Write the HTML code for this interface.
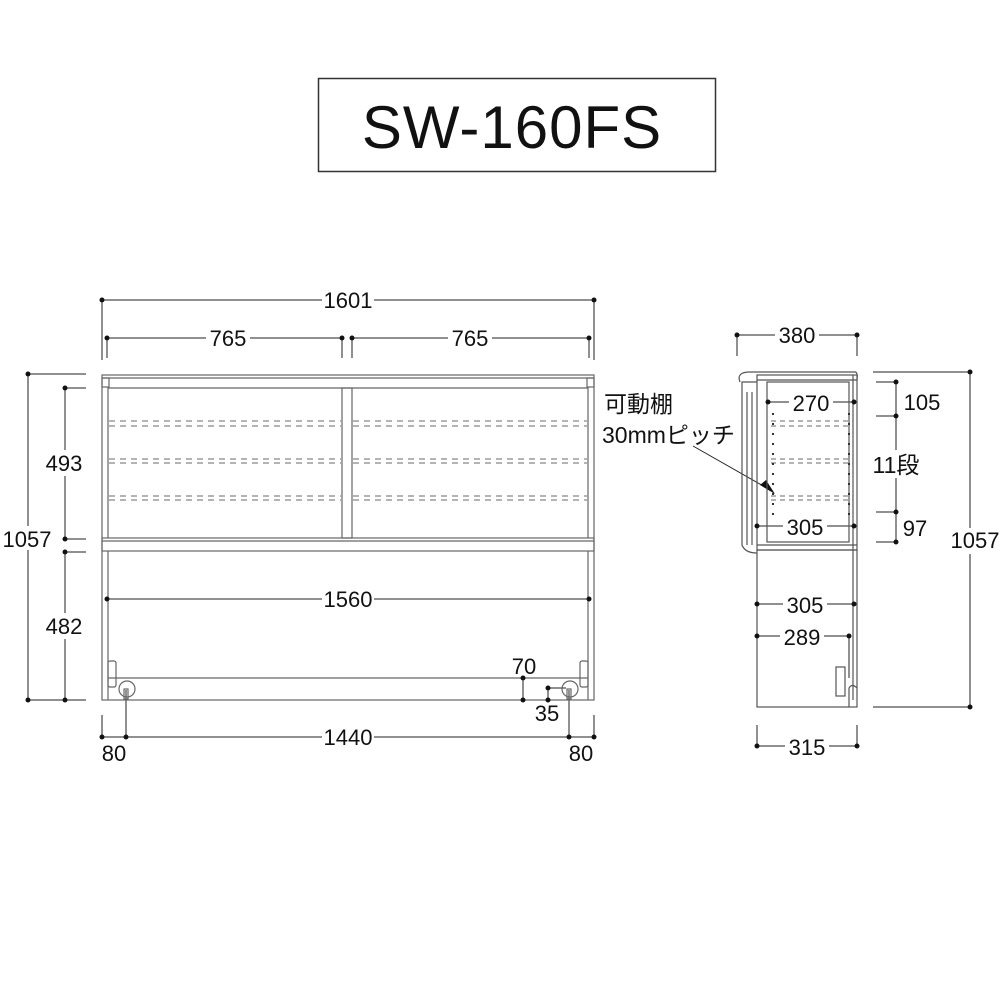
<!DOCTYPE html><html><head><meta charset="utf-8"><style>body{margin:0;background:#fff}svg{display:block}text{font-family:"Liberation Sans","Noto Sans CJK JP",sans-serif;fill:#111}</style></head><body>
<svg width="1000" height="1000" viewBox="0 0 1000 1000" xmlns="http://www.w3.org/2000/svg">
<rect x="318.5" y="78.5" width="397" height="93" fill="none" stroke="#333" stroke-width="1.5"/>
<text x="512" y="148" font-size="60" text-anchor="middle" fill="#333" font-family="DejaVu Sans, sans-serif" letter-spacing="1">SW-160FS</text>
<g stroke="#222" stroke-width="1" fill="none">
<line x1="102" y1="300" x2="594" y2="300"/><line x1="102" y1="300" x2="102" y2="360"/><line x1="594" y1="300" x2="594" y2="360"/>
<line x1="107" y1="338" x2="342" y2="338"/><line x1="352" y1="338" x2="589" y2="338"/>
<line x1="107" y1="338" x2="107" y2="358"/><line x1="342" y1="338" x2="342" y2="358"/><line x1="352" y1="338" x2="352" y2="358"/><line x1="589" y1="338" x2="589" y2="358"/>
<line x1="28" y1="374" x2="86" y2="374"/><line x1="28" y1="374" x2="28" y2="700"/><line x1="28" y1="700" x2="86" y2="700"/>
<line x1="65" y1="388" x2="86" y2="388"/><line x1="65" y1="388" x2="65" y2="539"/><line x1="65" y1="539" x2="86" y2="539"/>
<line x1="65" y1="552" x2="86" y2="552"/><line x1="65" y1="552" x2="65" y2="700"/>
<line x1="107" y1="599" x2="589" y2="599"/>
<line x1="102" y1="715" x2="102" y2="737"/><line x1="594" y1="715" x2="594" y2="737"/>
<line x1="102" y1="737" x2="594" y2="737"/>
<line x1="126" y1="690" x2="126" y2="737"/><line x1="569" y1="690" x2="569" y2="737"/>
<line x1="523" y1="678" x2="523" y2="700"/>
<line x1="548" y1="688" x2="566" y2="688"/><line x1="548" y1="688" x2="548" y2="700"/>
</g>
<g stroke="#666" stroke-width="1.2" fill="none">
<rect x="102" y="375" width="492" height="325"/>
<line x1="102" y1="378" x2="594" y2="378"/>
<rect x="102" y="378" width="7" height="9"/><rect x="587" y="378" width="7" height="9"/>
<line x1="108" y1="388" x2="588" y2="388"/>
<line x1="108" y1="387" x2="108" y2="538"/><line x1="588" y1="387" x2="588" y2="538"/>
<rect x="342" y="388" width="10" height="150"/>
<rect x="102" y="538" width="492" height="13"/>
<line x1="102" y1="541" x2="594" y2="541"/>
<line x1="108" y1="551" x2="108" y2="700"/><line x1="588" y1="551" x2="588" y2="700"/>
<line x1="108" y1="678" x2="588" y2="678"/>
<circle cx="127" cy="689" r="8"/><circle cx="570" cy="689" r="8"/>
<rect x="124" y="689" width="4" height="10"/><rect x="567" y="689" width="4" height="10"/>
<rect x="108" y="661" width="8" height="26" rx="2"/><rect x="580" y="661" width="8" height="26" rx="2"/>
</g>
<g stroke="#888" stroke-width="1.2" stroke-dasharray="6,5">
<line x1="109" y1="421" x2="341" y2="421"/><line x1="109" y1="426" x2="341" y2="426"/>
<line x1="353" y1="421" x2="587" y2="421"/><line x1="353" y1="426" x2="587" y2="426"/>
<line x1="109" y1="459" x2="341" y2="459"/><line x1="109" y1="463" x2="341" y2="463"/>
<line x1="353" y1="459" x2="587" y2="459"/><line x1="353" y1="463" x2="587" y2="463"/>
<line x1="109" y1="496" x2="341" y2="496"/><line x1="109" y1="500" x2="341" y2="500"/>
<line x1="353" y1="496" x2="587" y2="496"/><line x1="353" y1="500" x2="587" y2="500"/>
</g>
<g fill="#111">
<circle cx="102" cy="300" r="2.5"/><circle cx="594" cy="300" r="2.5"/>
<circle cx="107" cy="338" r="2.5"/><circle cx="342" cy="338" r="2.5"/><circle cx="352" cy="338" r="2.5"/><circle cx="589" cy="338" r="2.5"/>
<circle cx="28" cy="374" r="2.5"/><circle cx="28" cy="700" r="2.5"/>
<circle cx="65" cy="388" r="2.5"/><circle cx="65" cy="539" r="2.5"/><circle cx="65" cy="552" r="2.5"/><circle cx="65" cy="700" r="2.5"/>
<circle cx="107" cy="599" r="2.5"/><circle cx="589" cy="599" r="2.5"/>
<circle cx="102" cy="737" r="2.5"/><circle cx="126" cy="737" r="2.5"/><circle cx="569" cy="737" r="2.5"/><circle cx="594" cy="737" r="2.5"/>
<circle cx="523" cy="678" r="2.5"/><circle cx="523" cy="700" r="2.5"/><circle cx="548" cy="688" r="2.5"/><circle cx="548" cy="700" r="2.5"/>
</g>
<g font-size="22" text-anchor="middle">
<rect x="322" y="288" width="52" height="24" fill="#fff"/><text x="348" y="308">1601</text>
<rect x="206" y="326" width="44" height="24" fill="#fff"/><text x="228" y="346">765</text>
<rect x="448" y="326" width="44" height="24" fill="#fff"/><text x="470" y="346">765</text>
<rect x="0" y="526" width="56" height="24" fill="#fff"/><text x="27" y="547">1057</text>
<rect x="44" y="450" width="42" height="26" fill="#fff"/><text x="64" y="471">493</text>
<rect x="44" y="613" width="42" height="26" fill="#fff"/><text x="64" y="634">482</text>
<rect x="322" y="587" width="52" height="24" fill="#fff"/><text x="348" y="607">1560</text>
<rect x="322" y="725" width="52" height="24" fill="#fff"/><text x="348" y="745">1440</text>
<text x="114" y="761">80</text><text x="581" y="761">80</text>
<text x="524" y="674">70</text><text x="547" y="721">35</text>
</g>
<g stroke="#222" stroke-width="1" fill="none">
<line x1="737" y1="335" x2="857" y2="335"/><line x1="737" y1="335" x2="737" y2="356"/><line x1="857" y1="335" x2="857" y2="356"/>
<line x1="873" y1="372" x2="970" y2="372"/><line x1="970" y1="372" x2="970" y2="707"/><line x1="873" y1="707" x2="970" y2="707"/>
<line x1="876" y1="382" x2="896" y2="382"/><line x1="896" y1="382" x2="896" y2="542"/><line x1="876" y1="416" x2="896" y2="416"/>
<line x1="876" y1="512" x2="896" y2="512"/><line x1="876" y1="542" x2="896" y2="542"/>
<line x1="768" y1="402" x2="854" y2="402"/><line x1="757" y1="526" x2="854" y2="526"/>
<line x1="757" y1="604" x2="854" y2="604"/><line x1="757" y1="636" x2="849" y2="636"/><line x1="849" y1="636" x2="849" y2="678"/>
<line x1="757" y1="725" x2="757" y2="746"/><line x1="857" y1="725" x2="857" y2="746"/><line x1="757" y1="746" x2="857" y2="746"/>
<line x1="693" y1="446" x2="765" y2="487"/>
</g>
<path d="M775 494 L760 485 L766 480 Z" fill="#111"/>
<g stroke="#555" stroke-width="1.2" fill="none">
<path d="M740 382 Q736 372 750 372 L855 372 Q858 372 857 380 L757 380"/>
<rect x="757" y="375" width="100" height="175"/>
<rect x="767" y="382" width="82" height="160"/>
<line x1="853" y1="375" x2="853" y2="550"/>
<path d="M757 382 L742 382 L742 545 Q745 553 757 553"/>
<line x1="747" y1="392" x2="747" y2="545"/><line x1="752" y1="392" x2="752" y2="545"/>
<line x1="757" y1="545" x2="857" y2="545"/>
<rect x="757" y="550" width="100" height="157"/>
<line x1="853" y1="550" x2="853" y2="700"/>
<rect x="836" y="667" width="9" height="29"/>
<path d="M849 707 L849 688 Q852 683 857 688"/>
</g>
<g stroke="#888" stroke-width="1.2" stroke-dasharray="5,4">
<line x1="771" y1="421" x2="853" y2="421"/><line x1="771" y1="426" x2="853" y2="426"/>
<line x1="771" y1="459" x2="853" y2="459"/><line x1="771" y1="463" x2="853" y2="463"/>
<line x1="771" y1="496" x2="853" y2="496"/><line x1="771" y1="500" x2="853" y2="500"/>
</g>
<g stroke="#333" stroke-width="2" stroke-dasharray="2,8">
<line x1="773" y1="413" x2="773" y2="515"/><line x1="849" y1="413" x2="849" y2="515"/>
</g>
<g fill="#111">
<circle cx="737" cy="335" r="2.5"/><circle cx="857" cy="335" r="2.5"/><circle cx="970" cy="372" r="2.5"/><circle cx="970" cy="707" r="2.5"/>
<circle cx="896" cy="382" r="2.5"/><circle cx="896" cy="416" r="2.5"/><circle cx="896" cy="512" r="2.5"/><circle cx="896" cy="542" r="2.5"/>
<circle cx="768" cy="402" r="2.5"/><circle cx="854" cy="402" r="2.5"/><circle cx="757" cy="526" r="2.5"/><circle cx="854" cy="526" r="2.5"/>
<circle cx="757" cy="604" r="2.5"/><circle cx="854" cy="604" r="2.5"/><circle cx="757" cy="636" r="2.5"/><circle cx="849" cy="636" r="2.5"/>
<circle cx="757" cy="746" r="2.5"/><circle cx="857" cy="746" r="2.5"/>
</g>
<g font-size="22" text-anchor="middle">
<rect x="775" y="324" width="44" height="24" fill="#fff"/><text x="797" y="343">380</text>
<rect x="789" y="391" width="44" height="22" fill="#fff"/><text x="811" y="411">270</text>
<rect x="783" y="515" width="44" height="22" fill="#fff"/><text x="805" y="535">305</text>
<rect x="783" y="593" width="44" height="22" fill="#fff"/><text x="805" y="613">305</text>
<rect x="780" y="625" width="44" height="22" fill="#fff"/><text x="802" y="645">289</text>
<rect x="785" y="735" width="44" height="22" fill="#fff"/><text x="807" y="755">315</text>
<text x="922" y="410">105</text><text x="915" y="536">97</text>
<rect x="945" y="528" width="55" height="26" fill="#fff"/><text x="975" y="548">1057</text>
<rect x="868" y="450" width="56" height="28" fill="#fff"/><text x="896" y="473" font-size="23">11段</text>
</g>
<text x="604" y="412" font-size="23">可動棚</text>
<text x="602" y="443" font-size="23">30mmピッチ</text>
</svg></body></html>
